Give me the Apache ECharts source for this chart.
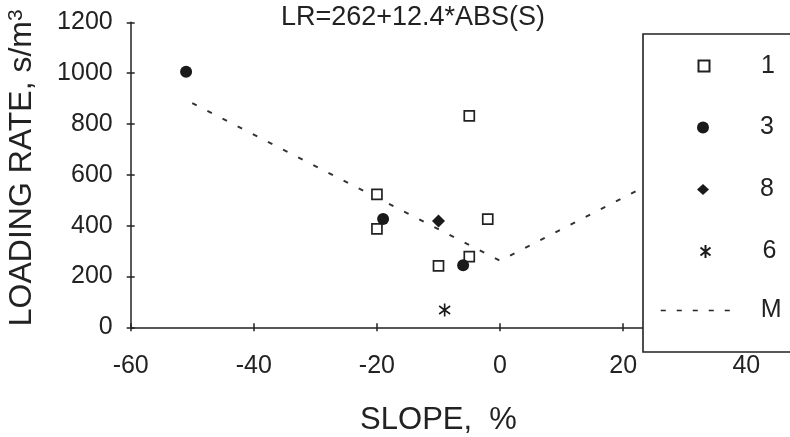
<!DOCTYPE html>
<html>
<head>
<meta charset="utf-8">
<script src="https://cdn.jsdelivr.net/npm/echarts@6/dist/echarts.min.js"></script>
<style>
  html, body { margin: 0; padding: 0; background: #fff; }
  #chart { width: 790px; height: 437px; }
</style>
</head>
<body>
<div id="chart"></div>
<script>
// Observed loading rate vs. slope, grouped by site
const series1 = [[-20, 523], [-20, 387], [-10, 242], [-5, 278], [-2, 426], [-5, 832]];
const series3 = [[-51, 1005], [-19, 426], [-6, 244]];
const series8 = [[-10, 418]];
const series6 = [[-9, 68]];
// Model M: LR = 262 + 12.4*|S|, drawn through these slope points
const modelPoints = [[-50, 882], [0, 262], [40, 758]];

const xTicks = { min: -60, max: 40, interval: 20 };
const yTicks = { min: 0, max: 1200, interval: 200 };

const ink = '#222';
const font = '"Liberation Sans", Arial, Helvetica, sans-serif';
const starPath = 'path://M5,0 L5,13 M0,2.5 L10,10.5 M0,10.5 L10,2.5';

const chart = echarts.init(document.getElementById('chart'), null, { renderer: 'canvas' });

const axisLineStyle = { color: ink, width: 1.5 };
const plainNumber = v => String(v);

// One legend block per entry so each row sits at its own height
function legendRow(name, top, w, h) {
  const left = 703 - w / 2;
  return {
    data: [name],
    orient: 'vertical',
    left: left, top: top,
    padding: 0,
    itemWidth: w, itemHeight: h,
    z: 10,
    textStyle: { fontSize: 25, color: ink, fontFamily: font, padding: [10, 0, 0, 755 - left - w] }
  };
}

chart.setOption({
  animation: false,
  backgroundColor: '#fff',
  textStyle: { fontFamily: font, color: ink },
  title: {
    text: 'LR=262+12.4*ABS(S)',
    left: 413,
    top: 4,
    padding: 0,
    textAlign: 'center',
    textStyle: { fontSize: 27, fontWeight: 'normal', color: ink, fontFamily: font }
  },
  grid: {
    left: 130.7, right: 43.7, top: 22.3, bottom: 109.7,
    containLabel: false, outerBoundsMode: 'none'
  },
  xAxis: [
    {
      type: 'value', min: xTicks.min, max: xTicks.max, interval: xTicks.interval,
      position: 'bottom',
      axisLine: { onZero: false, lineStyle: axisLineStyle },
      axisTick: { show: true, length: 4, lineStyle: axisLineStyle },
      axisLabel: { fontSize: 25, color: ink, margin: 26, fontFamily: font, formatter: plainNumber },
      splitLine: { show: false },
      name: 'SLOPE,  %', nameLocation: 'middle', nameGap: 78,
      nameTextStyle: { fontSize: 31, color: ink, fontFamily: font }
    },
    {
      type: 'value', min: xTicks.min, max: xTicks.max, interval: xTicks.interval,
      position: 'bottom',
      axisLine: { show: false, onZero: false },
      axisTick: { show: true, inside: true, length: 4, lineStyle: axisLineStyle },
      axisLabel: { show: false },
      splitLine: { show: false }
    }
  ],
  yAxis: [
    {
      type: 'value', min: yTicks.min, max: yTicks.max, interval: yTicks.interval,
      position: 'left',
      axisLine: { show: true, onZero: false, lineStyle: axisLineStyle },
      axisTick: { show: true, length: 4, lineStyle: axisLineStyle },
      axisLabel: { fontSize: 25, color: ink, margin: 18, fontFamily: font, formatter: plainNumber },
      splitLine: { show: false },
      name: 'LOADING RATE, s/m{sup|3}', nameLocation: 'middle', nameGap: 93, nameRotate: 90,
      nameTextStyle: {
        fontSize: 32, color: ink, fontFamily: font, padding: [0, 0, 0, 14],
        rich: { sup: { fontSize: 21, color: ink, fontFamily: font, verticalAlign: 'top', padding: [0, 0, 10, 0] } }
      }
    },
    {
      type: 'value', min: yTicks.min, max: yTicks.max, interval: yTicks.interval,
      position: 'left',
      axisLine: { show: false, onZero: false },
      axisTick: { show: true, inside: true, length: 4, lineStyle: axisLineStyle },
      axisLabel: { show: false },
      splitLine: { show: false }
    }
  ],
  legend: [
    legendRow('1', 53.4, 11, 11),
    legendRow('3', 115, 12, 12),
    legendRow('8', 177, 12, 11),
    legendRow('6', 239, 10, 14),
    {
      data: ['M'],
      orient: 'vertical',
      left: 660, top: 298,
      padding: 0,
      itemWidth: 77, itemHeight: 12,
      z: 10,
      itemStyle: { color: 'transparent', borderWidth: 0, opacity: 0 },
      lineStyle: { type: [5, 11], width: 1.5, color: ink },
      textStyle: { fontSize: 25, color: ink, fontFamily: font, padding: [12, 0, 0, 18] }
    }
  ],
  graphic: [
    {
      type: 'rect', z: 5,
      shape: { x: 643, y: 34, width: 170, height: 318 },
      style: { fill: '#fff', stroke: ink, lineWidth: 1.6 }
    }
  ],
  series: [
    {
      name: 'M', type: 'line', data: modelPoints, symbol: 'none', z: 1,
      lineStyle: { type: [5, 12], width: 2, color: '#333' }, itemStyle: { color: '#333' }
    },
    {
      name: '1', type: 'scatter', data: series1, symbol: 'rect', symbolSize: 10,
      itemStyle: { color: '#fff', borderColor: ink, borderWidth: 1.7, opacity: 1 }
    },
    {
      name: '3', type: 'scatter', data: series3, symbol: 'circle', symbolSize: 12,
      itemStyle: { color: '#1a1a1a', opacity: 1 }
    },
    {
      name: '8', type: 'scatter', data: series8, symbol: 'diamond', symbolSize: 13,
      itemStyle: { color: '#1a1a1a', opacity: 1 }
    },
    {
      name: '6', type: 'scatter', data: series6, symbol: starPath, symbolSize: [11, 13],
      itemStyle: { color: 'none', borderColor: '#1a1a1a', borderWidth: 1.8, opacity: 1 }
    }
  ]
});
</script>
</body>
</html>
